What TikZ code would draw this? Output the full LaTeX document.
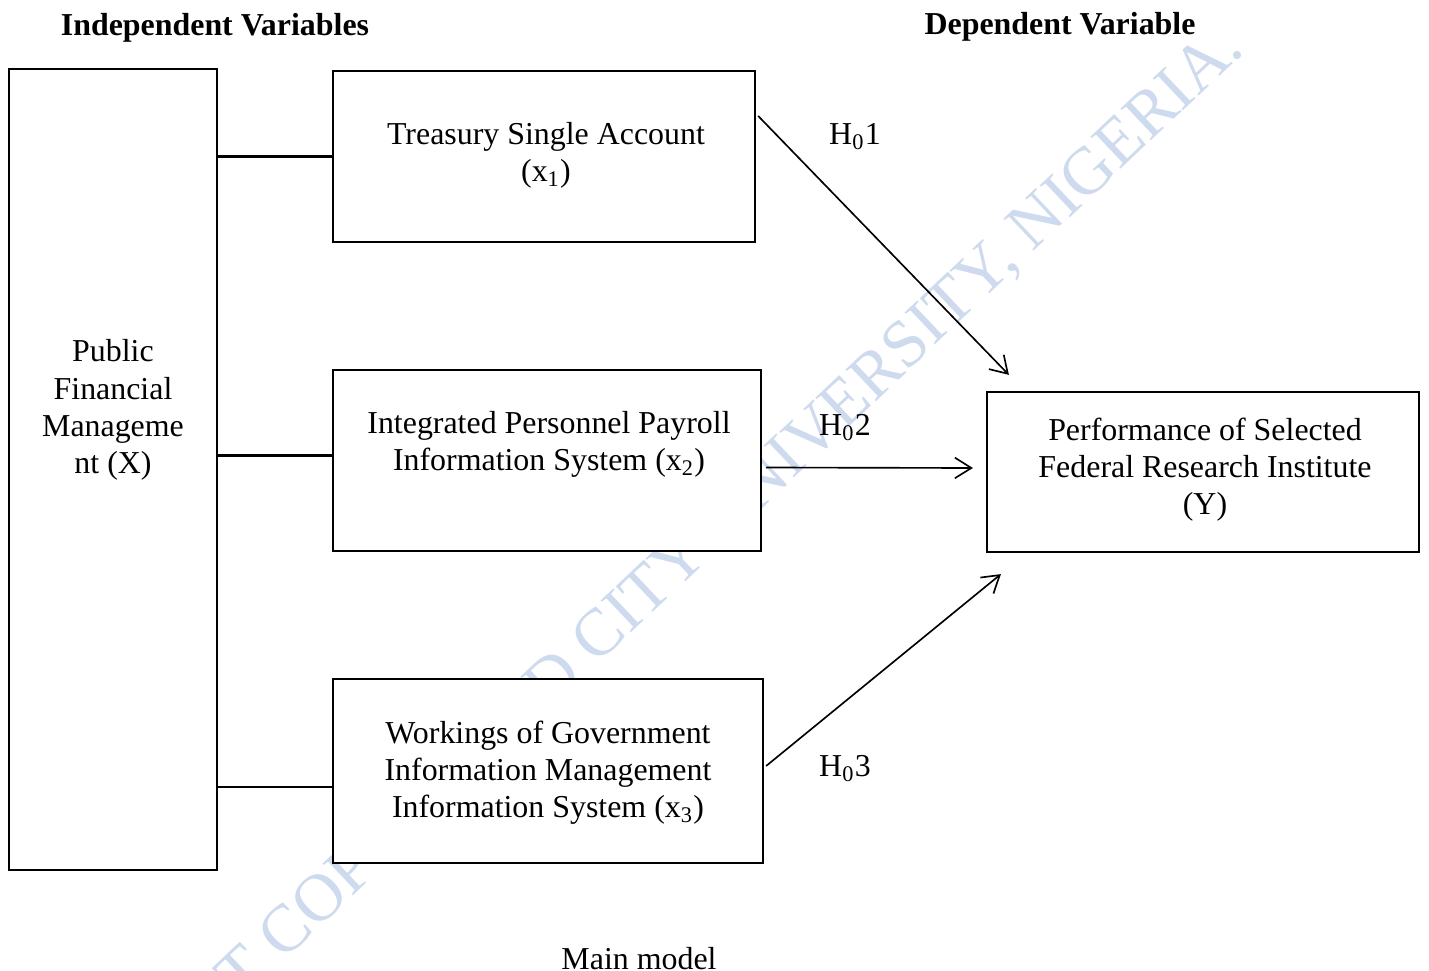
\documentclass[tikz,border=0pt]{standalone}
\usepackage{fontspec}
\setmainfont{Liberation Serif}
\usetikzlibrary{arrows.meta,calc,fit}
\definecolor{wmblue}{RGB}{206,218,237}
\begin{document}
\begin{tikzpicture}[x=0.36364pt,y=-0.36364pt,
  box/.style={draw,line width=0.8pt,fill=white,inner sep=0pt},
  txt/.style={align=center,font=\fontsize{11.6}{13.5}\selectfont,inner sep=0pt},
  link/.style={line width=0.75pt},
  hyp/.style={line width=0.6pt,-{Straight Barb[length=6pt,width=7.5pt]}},
  head/.style={font=\fontsize{11.6}{14}\selectfont\bfseries,inner sep=0pt},
  wmark/.style={text=wmblue,font=\fontsize{24.4}{28}\selectfont,inner sep=0pt}]
\useasboundingbox (0,0) rectangle (1429,971);

% background watermark
\node[wmark,rotate=43.4,anchor=base west] (wm) at (171,1068) {NOT COPY - LEAD CITY UNIVERSITY, NIGERIA.};

% boxes
\node[box,fit={(9,69) (217,870)}] (pfm) {};
\node[box,fit={(333,71) (755,242)}] (tsa) {};
\node[box,fit={(333,370) (761,551)}] (ippis) {};
\node[box,fit={(333,679) (763,863)}] (wgim) {};
\node[box,fit={(987,392) (1419,552)}] (perf) {};

% box texts
\node[txt] (pfmtext) at (113,410) {Public\\Financial\\Manageme\\nt (X)};
\node[txt] (tsatext) at (546,155) {Treasury Single Account\\(x\textsubscript{1})};
\node[txt] (ippistext) at (549,444) {Integrated Personnel Payroll\\Information System (x\textsubscript{2})};
\node[txt] (wgimtext) at (548,773) {Workings of Government\\Information Management\\Information System (x\textsubscript{3})};
\node[txt] (perftext) at (1205,470) {Performance of Selected\\Federal Research Institute\\(Y)};

% links from the main construct
\draw[link] (pfm.east |- tsa.west) -- (tsa.west);
\draw[link] ($(pfm.east |- ippis.west)+(0,-5)$) -- ($(ippis.west)+(0,-5)$);
\draw[link] ($(pfm.east |- wgim.west)+(0,16)$) -- ($(wgim.west)+(0,16)$);

% hypotheses
\draw[hyp] ($(tsa.north east)+(2,46)$) -- ($(perf.north west)+(23,-16)$);
\draw[hyp] ($(ippis.east)+(4,7)$) -- ($(perf.west)+(-13,-4)$);
\draw[hyp] ($(wgim.east)+(2,-5)$) -- ($(perf.south west)+(15,21)$);

\node[txt] (h1) at (855,137) {H\textsubscript{0}1};
\node[txt] (h2) at (845,428) {H\textsubscript{0}2};
\node[txt] (h3) at (845,769) {H\textsubscript{0}3};

% headings and caption
\node[head] (indep) at (215,28) {Independent Variables};
\node[head] (dep) at (1060,27) {Dependent Variable};
\node[txt] (caption) at (639,959) {Main model};
\end{tikzpicture}
\end{document}
